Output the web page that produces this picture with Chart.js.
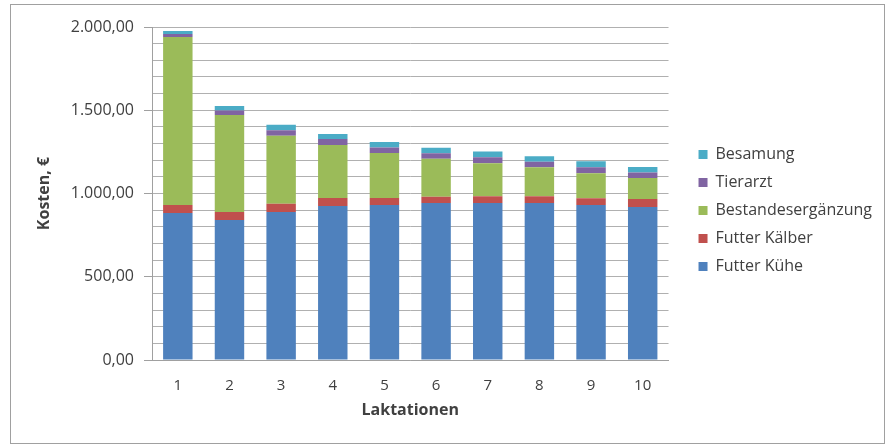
<!DOCTYPE html>
<html>
<head>
<meta charset="utf-8">
<script src="https://cdn.jsdelivr.net/npm/chart.js@4"></script>
<style>
  body { margin: 0; background: #fff; }
  .chartBox { width: 890px; height: 448px; }
</style>
</head>
<body>
<div class="chartBox"><canvas id="myChart"></canvas></div>
<script>
const laktationen = ['1', '2', '3', '4', '5', '6', '7', '8', '9', '10'];
const futterKuehe = [883, 841, 889, 925, 931, 943, 943, 943, 931, 919];
const futterKaelber = [48, 48, 50, 48, 42, 38, 40, 40, 40, 48];
const bestandesergaenzung = [1009, 583, 408, 318, 270, 228, 198, 174, 150, 126];
const tierarzt = [18, 27, 33, 36, 33, 33, 36, 33, 36, 33];
const besamung = [18, 27, 33, 30, 33, 33, 36, 33, 36, 33];
const yMax = 2000;

const fontFamily = "'Open Sans', 'Liberation Sans', sans-serif";
const textColor = '#404040';

// deutsches Zahlenformat: 2.000,00
function formatDe(v) {
    const parts = v.toFixed(2).split('.');
    return parts[0].replace(/\B(?=(\d{3})+(?!\d))/g, '.') + ',' + parts[1];
}

const frame = {
    id: 'frame',
    beforeDraw(chart) {
        const ctx = chart.ctx;
        ctx.save();
        ctx.fillStyle = '#fff';
        ctx.fillRect(0, 0, chart.width, chart.height);
        ctx.strokeStyle = '#a0a0a0';
        ctx.lineWidth = 1;
        ctx.strokeRect(10.5, 4.5, 874, 439);
        ctx.restore();
    }
};

function makeSet(label, data, color) {
    return {
        label: label,
        data: data,
        backgroundColor: color,
        borderWidth: 0,
        barPercentage: 0.57,
        categoryPercentage: 1
    };
}

const ctx = document.getElementById('myChart');
const myChart = new Chart(ctx, {
    type: 'bar',
    data: {
        labels: laktationen,
        datasets: [
            makeSet('Futter Kühe', futterKuehe, '#4f81bd'),
            makeSet('Futter Kälber', futterKaelber, '#c0504d'),
            makeSet('Bestandesergänzung', bestandesergaenzung, '#9bbb59'),
            makeSet('Tierarzt', tierarzt, '#8064a2'),
            makeSet('Besamung', besamung, '#4bacc6')
        ]
    },
    options: {
        responsive: true,
        maintainAspectRatio: false,
        animation: false,
        layout: { padding: { left: 10, top: 27, right: 8, bottom: 0 } },
        plugins: {
            tooltip: { enabled: false },
            legend: {
                position: 'right',
                fullSize: false,
                reverse: true,
                maxWidth: 250,
                title: { display: true, text: ' ', font: { size: 1 }, padding: { top: 33, bottom: 0 } },
                labels: {
                    boxWidth: 9,
                    boxHeight: 9,
                    padding: 12,
                    color: textColor,
                    font: { family: fontFamily, size: 16 }
                }
            }
        },
        scales: {
            x: {
                stacked: true,
                grid: { display: false },
                border: { display: true, color: '#a0a0a0', width: 1 },
                ticks: { color: textColor, padding: 9, font: { family: fontFamily, size: 15 } },
                title: {
                    display: true,
                    text: 'Laktationen',
                    color: textColor,
                    font: { family: fontFamily, size: 16, weight: 'bold' },
                    padding: { top: 0, bottom: 28 }
                },
                afterFit: (scale) => { scale.height = 88; }
            },
            y: {
                stacked: true,
                min: 0,
                max: yMax,
                grid: {
                    color: '#b0b0b0',
                    lineWidth: 1,
                    tickLength: 8,
                    tickColor: (c) => (c.tick && c.tick.value % 500 === 0 ? '#a0a0a0' : 'rgba(0,0,0,0)')
                },
                border: { display: true, color: '#a0a0a0', width: 1 },
                ticks: {
                    stepSize: 100,
                    autoSkip: false,
                    padding: 10,
                    color: textColor,
                    font: { family: fontFamily, size: 16 },
                    callback: (v) => (v % 500 === 0 ? formatDe(v) : '')
                },
                title: {
                    display: true,
                    text: 'Kosten, €',
                    color: textColor,
                    font: { family: fontFamily, size: 16, weight: 'bold' },
                    padding: { top: 25, bottom: 0 }
                },
                afterFit: (scale) => { scale.width = 142; }
            },
            // unsichtbare Achse als Abstand zur Legende
            spacer: {
                position: 'right',
                display: true,
                grid: { display: false },
                border: { display: false },
                ticks: { display: false },
                afterFit: (scale) => { scale.width = 18; }
            }
        }
    },
    plugins: [frame]
});
</script>
</body>
</html>
